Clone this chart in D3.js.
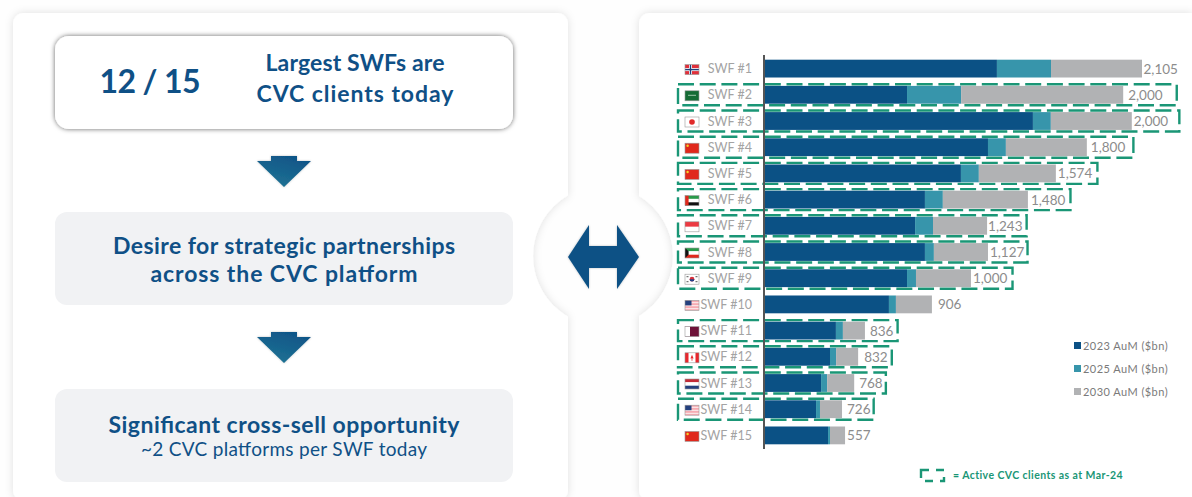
<!DOCTYPE html>
<html>
<head>
<meta charset="utf-8">
<script src="https://cdn.jsdelivr.net/npm/d3@7"></script>
<style>
html, body { margin: 0; padding: 0; background: #fefefe; overflow: hidden; }
svg { display: block; font-family: Lato, "Open Sans", sans-serif; }
</style>
</head>
<body>
<div id="chart"></div>
<script>
const WIDTH = 1192;
const HEIGHT = 497;

const funds = ['SWF #1', 'SWF #2', 'SWF #3', 'SWF #4', 'SWF #5', 'SWF #6', 'SWF #7', 'SWF #8', 'SWF #9', 'SWF #10', 'SWF #11', 'SWF #12', 'SWF #13', 'SWF #14', 'SWF #15'];
const flags = ['no', 'sa', 'jp', 'cn', 'cn', 'ae', 'sg', 'kw', 'kr', 'us', 'qa', 'ca', 'nl', 'us', 'cn'];
// segment lengths as drawn on the slide, the bars do not always add up to the label
const aum2023 = [1295, 793, 1496, 1245, 1094, 893, 838, 893, 793, 692, 396, 363, 313, 285, 352];
const aum2025 = [302, 302, 100, 100, 100, 100, 100, 50, 50, 39, 39, 34, 34, 22, 11];
const aum2030 = [508, 905, 452, 452, 430, 475, 302, 302, 307, 201, 123, 123, 151, 123, 84];
const totalLabels = ['2,105', '2,000', '2,000', '1,800', '1,574', '1,480', '1,243', '1,127', '1,000', '906', '836', '832', '768', '726', '557'];
const activeClient = [false, true, true, true, true, true, true, true, true, false, true, true, true, true, false];
const seriesNames = ['2023 AuM ($bn)', '2025 AuM ($bn)', '2030 AuM ($bn)'];

const NAVY = '#0b5185';
const TEXT_BLUE = '#0f5086';
const GREEN = '#1a9676';
const colorScale = d3.scaleOrdinal().domain(seriesNames).range([NAVY, '#3795ab', '#b1b2b4']);

// hand placed on the slide: gap bar to label, gap label to dashed box
const LABEL_GAP = [1.5, 5, 2, 4, 2, 3, 1, 2, 2, 6, 5, 6, 5, 5, 2];
const BOX_PAD = [0, 14, 11, 8, 5, 5, 4, 3, 5, 0, 4, 4, 3, 3, 0];

const svg = d3.select('#chart')
    .append('svg')
    .attr('width', WIDTH)
    .attr('height', HEIGHT)
    .attr('viewBox', `0 0 ${WIDTH} ${HEIGHT}`);

const defs = svg.append('defs');

const addShadow = (id, blur, color, opacity) => {
    const f = defs.append('filter')
        .attr('id', id)
        .attr('x', '-10%').attr('y', '-20%')
        .attr('width', '120%').attr('height', '140%');
    f.append('feDropShadow')
        .attr('dx', 0).attr('dy', 0)
        .attr('stdDeviation', blur)
        .attr('flood-color', color)
        .attr('flood-opacity', opacity);
};
addShadow('panelShadow', 4, '#000', 0.12);
addShadow('cardShadow', 2.5, '#000', 0.6);
addShadow('arrowShadow', 1, '#000', 0.25);

const arrowGrad = defs.append('linearGradient')
    .attr('id', 'arrowGrad')
    .attr('x1', '80%').attr('y1', '0%')
    .attr('x2', '30%').attr('y2', '100%');
arrowGrad.append('stop').attr('offset', '0%').attr('stop-color', '#0f5387');
arrowGrad.append('stop').attr('offset', '100%').attr('stop-color', '#1f7394');

// the circle is bitten out of both panels
const bite = defs.append('mask')
    .attr('id', 'bite')
    .attr('maskUnits', 'userSpaceOnUse')
    .attr('x', 0).attr('y', 0)
    .attr('width', WIDTH).attr('height', HEIGHT + 20);
bite.append('rect').attr('width', WIDTH).attr('height', HEIGHT + 20).attr('fill', '#fff');
bite.append('circle').attr('cx', 603).attr('cy', 256).attr('r', 70).attr('fill', '#000');

[[13, 555], [639, 570]].forEach(([x, w]) => {
    svg.append('g')
        .attr('filter', 'url(#panelShadow)')
        .append('rect')
        .attr('x', x).attr('y', 13)
        .attr('width', w).attr('height', 488)
        .attr('rx', 11)
        .attr('fill', '#fff')
        .attr('mask', 'url(#bite)');
});

svg.append('path')
    .attr('d', 'M568,257L589,225V246H617V225L639,257L617,289V268H589V289Z')
    .attr('fill', NAVY)
    .attr('filter', 'url(#arrowShadow)');

// left column
svg.append('rect')
    .attr('x', 55).attr('y', 36)
    .attr('width', 458).attr('height', 93)
    .attr('rx', 14)
    .attr('fill', '#fff')
    .attr('filter', 'url(#cardShadow)');

[212, 389].forEach(y => {
    svg.append('rect')
        .attr('x', 55).attr('y', y)
        .attr('width', 458).attr('height', 93)
        .attr('rx', 12)
        .attr('fill', '#f1f2f4');
});

[156, 332].forEach(y => {
    svg.append('path')
        .attr('transform', `translate(284,${y})`)
        .attr('d', 'M-13,0H13V5H27L0,31L-27,5H-13Z')
        .attr('fill', 'url(#arrowGrad)')
        .attr('filter', 'url(#arrowShadow)');
});

const leftText = [
    { t: '12 / 15', x: 150, y: 93, size: 32, weight: 700, w: 101 },
    { t: 'Largest SWFs are', x: 355, y: 71, size: 23, weight: 700, w: 179 },
    { t: 'CVC clients today', x: 355, y: 102, size: 23, weight: 700, w: 197 },
    { t: 'Desire for strategic partnerships', x: 284, y: 254, size: 23, weight: 700, w: 342 },
    { t: 'across the CVC platform', x: 284, y: 282, size: 23, weight: 700, w: 267 },
    { t: 'Significant cross-sell opportunity', x: 284, y: 433, size: 23, weight: 700, w: 351 },
    { t: '~2 CVC platforms per SWF today', x: 284, y: 456, size: 19, weight: 400, w: 286 }
];
svg.selectAll('.left-text')
    .data(leftText)
    .enter()
    .append('text')
    .attr('class', 'left-text')
    .attr('x', d => d.x)
    .attr('y', d => d.y)
    .attr('text-anchor', 'middle')
    .attr('textLength', d => d.w)
    .attr('font-size', d => d.size)
    .attr('font-weight', d => d.weight)
    .attr('fill', TEXT_BLUE)
    .text(d => d.t);

// bar chart
const xScale = d3.scaleLinear().domain([0, 2105]).range([765, 1142]);
const yScale = d3.scaleBand().domain(funds).range([55.5, 448.5]).paddingInner(0.32).paddingOuter(0.16);

const rows = funds.map((fund, i) => ({
    fund,
    [seriesNames[0]]: aum2023[i],
    [seriesNames[1]]: aum2025[i],
    [seriesNames[2]]: aum2030[i]
}));
const stacked = d3.stack().keys(seriesNames)(rows);

const barEnd = d => xScale(d3.sum(seriesNames, k => d[k]));

const chart = svg.append('g');
const boxLayer = chart.append('g');

chart.selectAll('.series')
    .data(stacked)
    .enter()
    .append('g')
    .attr('class', 'series')
    .attr('fill', d => colorScale(d.key))
    .selectAll('rect')
    .data(d => d)
    .enter()
    .append('rect')
    .attr('x', d => xScale(d[0]))
    .attr('y', d => yScale(d.data.fund))
    .attr('width', d => xScale(d[1]) - xScale(d[0]))
    .attr('height', yScale.bandwidth());

const valueLabels = chart.selectAll('.value-label')
    .data(rows)
    .enter()
    .append('text')
    .attr('class', 'value-label')
    .attr('x', (d, i) => barEnd(d) + LABEL_GAP[i])
    .attr('y', d => yScale(d.fund) + yScale.bandwidth() / 2 + 5)
    .attr('font-size', 13.5)
    .attr('fill', '#8c8c8c')
    .text((d, i) => totalLabels[i]);

chart.selectAll('.fund-label')
    .data(funds)
    .enter()
    .append('text')
    .attr('class', 'fund-label')
    .attr('x', 752)
    .attr('y', d => yScale(d) + yScale.bandwidth() / 2 + 4.5)
    .attr('text-anchor', 'end')
    .attr('font-size', 12.5)
    .attr('fill', '#a3a3a3')
    .text(d => d);

// dashed outlines of the active clients
valueLabels.each(function (d, i) {
    if (!activeClient[i]) return;
    const box = this.getBBox();
    const cy = yScale(d.fund) + yScale.bandwidth() / 2;
    boxLayer.append('rect')
        .attr('x', 678)
        .attr('y', cy - 10.5)
        .attr('width', box.x + box.width + BOX_PAD[i] - 678)
        .attr('height', 21)
        .attr('fill', 'none')
        .attr('stroke', GREEN)
        .attr('stroke-width', 2.4)
        .attr('stroke-dasharray', '16 5.7');
});

chart.append('line')
    .attr('x1', xScale(0) - 1).attr('x2', xScale(0) - 1)
    .attr('y1', 55).attr('y2', 449)
    .attr('stroke', '#555')
    .attr('stroke-width', 2);

// flags
function drawFlag(code, g) {
    const w = 14;
    const h = 10;
    const band = (x, y, bw, bh, c) => g.append('rect').attr('x', x).attr('y', y).attr('width', bw).attr('height', bh).attr('fill', c);
    const disc = (cx, cy, r, c) => g.append('circle').attr('cx', cx).attr('cy', cy).attr('r', r).attr('fill', c);
    if (code === 'no') {
        band(0, 0, w, h, '#e0303a');
        band(4, 0, 3, h, '#fff');
        band(0, 3.5, w, 3, '#fff');
        band(4.8, 0, 1.4, h, '#1f3f7a');
        band(0, 4.3, w, 1.4, '#1f3f7a');
    } else if (code === 'sa') {
        band(0, 0, w, h, '#156b35');
        band(3, 4, 8, 1, '#9cc4a8');
    } else if (code === 'jp') {
        band(0, 0, w, h, '#fff');
        disc(7, 5, 2.8, '#e02b2b');
    } else if (code === 'cn') {
        band(0, 0, w, h, '#e0281c');
        disc(2.6, 2.6, 1.2, '#f5d327');
    } else if (code === 'ae') {
        band(0, 0, w, 3.3, '#2a9a4a');
        band(0, 3.3, w, 3.4, '#fff');
        band(0, 6.7, w, 3.3, '#111');
        band(0, 0, 3.6, h, '#e0281c');
    } else if (code === 'sg') {
        band(0, 0, w, 5, '#ec3a42');
        band(0, 5, w, 5, '#fff');
    } else if (code === 'kw') {
        band(0, 0, w, 3.3, '#2a9a4a');
        band(0, 3.3, w, 3.4, '#fff');
        band(0, 6.7, w, 3.3, '#e0281c');
        g.append('path').attr('d', 'M0,0L3.6,3.3V6.7L0,10Z').attr('fill', '#111');
    } else if (code === 'kr') {
        band(0, 0, w, h, '#fff');
        disc(7, 5, 2.4, '#d8303c');
        g.append('path').attr('d', 'M4.6,5A2.4,2.4 0 0 0 9.4,5Z').attr('fill', '#1f3f8a');
        band(1.5, 2, 2, 1, '#555');
        band(10.5, 2, 2, 1, '#555');
        band(1.5, 7, 2, 1, '#555');
        band(10.5, 7, 2, 1, '#555');
    } else if (code === 'us') {
        band(0, 0, w, h, '#f5a5ad');
        [1.5, 4.5, 7.5].forEach(y => band(0, y, w, 1.4, '#fbe3e5'));
        band(0, 0, 6.5, 5, '#24407e');
    } else if (code === 'qa') {
        band(0, 0, w, h, '#6e1238');
        band(0, 0, 5, h, '#fff');
    } else if (code === 'ca') {
        band(0, 0, w, h, '#fff');
        band(0, 0, 3.5, h, '#e8262c');
        band(10.5, 0, 3.5, h, '#e8262c');
        g.append('path').attr('d', 'M7,2L8.6,5.6L7.4,5.4V8H6.6V5.4L5.4,5.6Z').attr('fill', '#e8262c');
    } else if (code === 'nl') {
        band(0, 0, w, 3.3, '#c22a36');
        band(0, 3.3, w, 3.4, '#fff');
        band(0, 6.7, w, 3.3, '#24407e');
    }
    g.append('rect')
        .attr('width', w).attr('height', h)
        .attr('fill', 'none')
        .attr('stroke', '#9a9a9a')
        .attr('stroke-width', 0.6);
}

funds.forEach((fund, i) => {
    const g = chart.append('g')
        .attr('transform', `translate(685,${yScale(fund) + yScale.bandwidth() / 2 - 4})`);
    drawFlag(flags[i], g);
});

// legend
const legend = svg.append('g').attr('transform', 'translate(1074,342)');
seriesNames.forEach((name, i) => {
    const item = legend.append('g').attr('transform', `translate(0,${i * 23})`);
    item.append('rect')
        .attr('width', 7).attr('height', 7)
        .attr('fill', colorScale(name));
    item.append('text')
        .attr('x', 9).attr('y', 8)
        .attr('font-size', 11)
        .attr('letter-spacing', 0.45)
        .attr('fill', '#7a7a7a')
        .text(name);
});

svg.append('rect')
    .attr('x', 921).attr('y', 470)
    .attr('width', 23).attr('height', 11)
    .attr('fill', 'none')
    .attr('stroke', GREEN)
    .attr('stroke-width', 2.4)
    .attr('stroke-dasharray', '8 7');
svg.append('text')
    .attr('x', 953).attr('y', 479)
    .attr('font-size', 10.5)
    .attr('font-weight', 700)
    .attr('letter-spacing', 0.42)
    .attr('fill', GREEN)
    .text('= Active CVC clients as at Mar-24');
</script>
</body>
</html>
